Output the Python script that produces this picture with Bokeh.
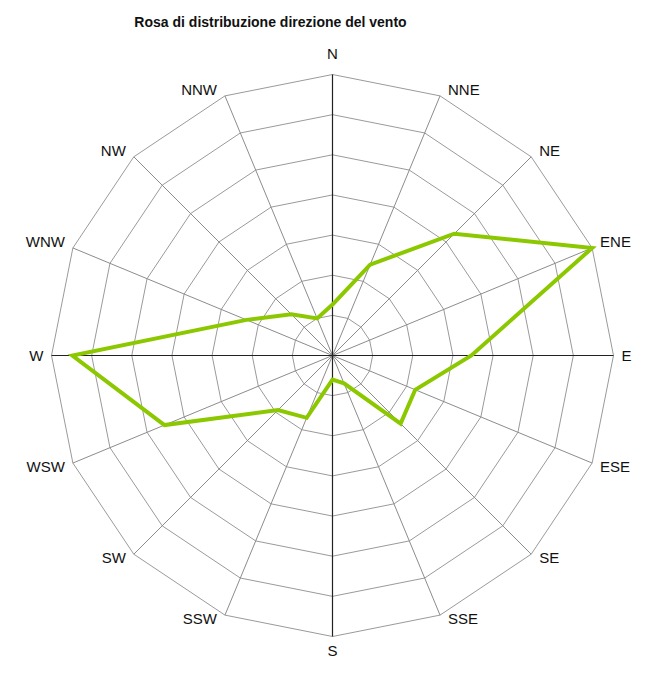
import numpy as np
from bokeh.plotting import figure
from bokeh.models import Range1d, ColumnDataSource
from bokeh.core.properties import value
from bokeh.embed import file_html
from bokeh.resources import INLINE

# ---- data ----
directions = ["N", "NNE", "NE", "ENE", "E", "ESE", "SE", "SSE",
              "S", "SSW", "SW", "WSW", "W", "WNW", "NW", "NNW"]
frequency = [1.27, 2.45, 4.29, 7.0, 3.46, 2.23, 2.4, 0.75,
             0.6, 1.68, 1.92, 4.53, 6.48, 2.32, 1.45, 1.0]
ring_levels = [1, 2, 3, 4, 5, 6, 7]
title_text = "Rosa di distribuzione direzione del vento"

# ---- geometry ----
n = len(directions)
theta = np.arange(n) * 2 * np.pi / n  # clockwise from north
sin_t, cos_t = np.sin(theta), np.cos(theta)
rmax = max(ring_levels)

W, H = 634, 663
radius_px = 281.0
scale = radius_px / rmax          # pixels per unit
cx_pix, cy_pix = 332.0, 355.0     # centre in figure pixels
x0 = -cx_pix / scale
x1 = (W - cx_pix) / scale
y1 = cy_pix / scale
y0 = -(H - cy_pix) / scale

p = figure(width=W, height=H, output_backend="svg", toolbar_location=None,
           x_range=Range1d(x0, x1), y_range=Range1d(y0, y1),
           min_border=0, background_fill_color="white",
           border_fill_color="white")
p.axis.visible = False
p.xgrid.visible = False
p.ygrid.visible = False
p.outline_line_color = None

# rings
ring_xs = [list(np.append(r * sin_t, r * sin_t[0])) for r in ring_levels]
ring_ys = [list(np.append(r * cos_t, r * cos_t[0])) for r in ring_levels]
p.multi_line(ring_xs, ring_ys, line_color="#9a9a9a", line_width=1)

# spokes
grey_x, grey_y, dark_x, dark_y = [], [], [], []
for i in range(n):
    xs = [0, rmax * sin_t[i]]
    ys = [0, rmax * cos_t[i]]
    if i % 4 == 0:
        dark_x.append(xs); dark_y.append(ys)
    else:
        grey_x.append(xs); grey_y.append(ys)
p.multi_line(grey_x, grey_y, line_color="#8c8c8c", line_width=1)
p.multi_line(dark_x, dark_y, line_color="#222222", line_width=1.2)

# data polygon
fr = np.array(frequency)
dx = list(np.append(fr * sin_t, fr[0] * sin_t[0]))
dy = list(np.append(fr * cos_t, fr[0] * cos_t[0]))
p.line(dx, dy, line_color="#8cc800", line_width=4, line_join="miter")

# direction labels
shift = -6
lx, ly, aligns, xo, yo = [], [], [], [], []
for i in range(n):
    s, c = sin_t[i], cos_t[i]
    lx.append(rmax * s)
    ly.append(rmax * c)
    if abs(s) < 0.01:
        aligns.append("center"); xo.append(0)
        yo.append((-15 if c > 0 else 20) + shift)
    else:
        aligns.append("left" if s > 0 else "right")
        xo.append(8 if s > 0 else -8)
        if abs(c) < 0.01:
            yo.append(5.5 + shift)
        elif c > 0:
            yo.append(0 + shift)
        else:
            yo.append(9 + shift)
src = ColumnDataSource(dict(x=lx, y=ly, t=directions, a=aligns, xo=xo, yo=yo))
p.text(x="x", y="y", text="t", text_align="a", x_offset="xo", y_offset="yo",
       source=src, text_baseline="alphabetic", text_font=value("Liberation Sans"),
       text_font_size="15px", text_color="#111111")

# title
p.text(x=[(270.0 - cx_pix) / scale], y=[(cy_pix - 21.0) / scale],
       text=[title_text], text_align="center", text_baseline="alphabetic",
       text_font=value("Liberation Sans"), text_font_style="bold",
       text_font_size="14px", text_color="#111111")

open("out.html", "w").write(file_html(p, INLINE))
